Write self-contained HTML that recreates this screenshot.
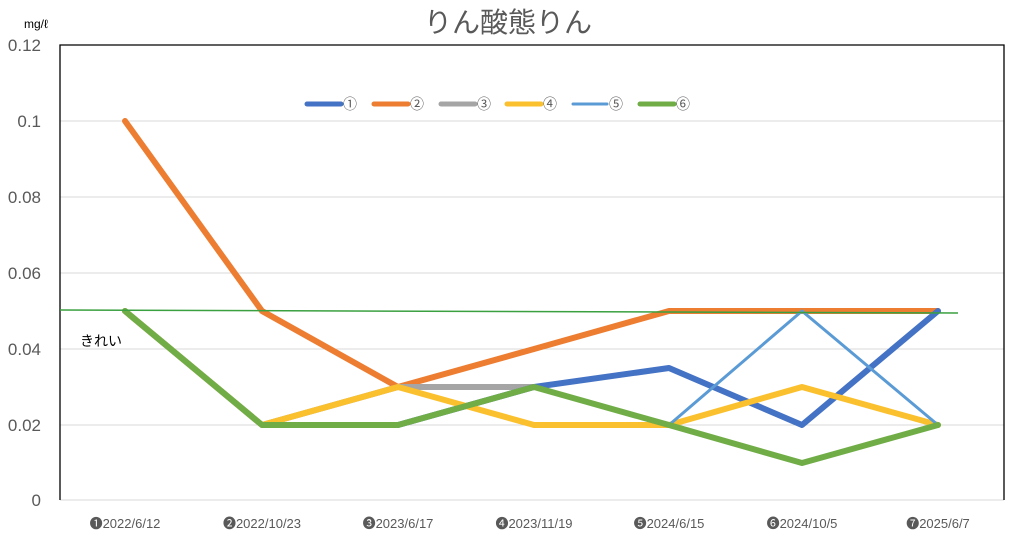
<!DOCTYPE html><html><head><meta charset="utf-8"><style>body{margin:0;background:#fff}svg{display:block}text{font-family:"Liberation Sans","Noto Sans CJK JP",sans-serif}</style></head><body>
<svg width="1017" height="557" viewBox="0 0 1017 557">
<text x="508" y="32" text-anchor="middle" font-size="28" fill="#595959">りん酸態りん</text>
<text x="24" y="28" font-size="12" fill="#000">mg/ℓ</text>
<g stroke="#d9d9d9" stroke-width="1"><line x1="60" y1="121" x2="1004" y2="121"/><line x1="60" y1="197" x2="1004" y2="197"/><line x1="60" y1="273" x2="1004" y2="273"/><line x1="60" y1="349" x2="1004" y2="349"/><line x1="60" y1="425" x2="1004" y2="425"/><line x1="60" y1="500" x2="1004" y2="500"/></g>
<polyline points="60,500 60,45 1004,45 1004,500" fill="none" stroke="#000" stroke-width="1.3"/>
<g font-size="17" fill="#595959" text-anchor="end"><text x="41" y="51">0.12</text><text x="41" y="127">0.1</text><text x="41" y="203">0.08</text><text x="41" y="279">0.06</text><text x="41" y="355">0.04</text><text x="41" y="431">0.02</text><text x="41" y="506">0</text></g>
<g font-size="13" fill="#595959" text-anchor="middle"><text x="125" y="528">➊2022/6/12</text><text x="262" y="528">➋2022/10/23</text><text x="398" y="528">➌2023/6/17</text><text x="534" y="528">➍2023/11/19</text><text x="669" y="528">➎2024/6/15</text><text x="802" y="528">➏2024/10/5</text><text x="938" y="528">➐2025/6/7</text></g>
<text x="80" y="346" font-size="14" fill="#000">きれい</text>
<g fill="none" stroke-linejoin="round" stroke-linecap="round">
<polyline stroke="#ED7D31" stroke-width="6" points="125,121 262,311 398,387 534,349 669,311 802,311 938,311"/>
<polyline stroke="#A5A5A5" stroke-width="6" points="262,425 398,387 534,387"/>
<polyline stroke="#4472C4" stroke-width="6" points="125,311 262,425 398,425 534,387 669,368 802,425 938,311"/>
<polyline stroke="#FBC02D" stroke-width="6" points="125,311 262,425 398,387 534,425 669,425 802,387 938,425"/>
<polyline stroke="#5B9BD5" stroke-width="3" points="669,425 802,311 938,425"/>
<polyline stroke="#70AD47" stroke-width="6" points="125,311 262,425 398,425 534,387 669,425 802,463 938,425"/>
</g>
<line x1="60" y1="310" x2="958" y2="313" stroke="#3aa040" stroke-width="1.5"/>
<g stroke-width="5" stroke-linecap="round" font-size="14" fill="#595959">
<line x1="307" y1="104" x2="341" y2="104" stroke="#4472C4"/><text x="343" y="109">①</text>
<line x1="374" y1="104" x2="408" y2="104" stroke="#ED7D31"/><text x="410" y="109">②</text>
<line x1="441" y1="104" x2="475" y2="104" stroke="#A5A5A5"/><text x="477" y="109">③</text>
<line x1="507" y1="104" x2="541" y2="104" stroke="#FBC02D"/><text x="543" y="109">④</text>
<line x1="573" y1="104" x2="607" y2="104" stroke="#5B9BD5" stroke-width="3"/><text x="609" y="109">⑤</text>
<line x1="640" y1="104" x2="674" y2="104" stroke="#70AD47"/><text x="676" y="109">⑥</text>
</g>
</svg></body></html>
